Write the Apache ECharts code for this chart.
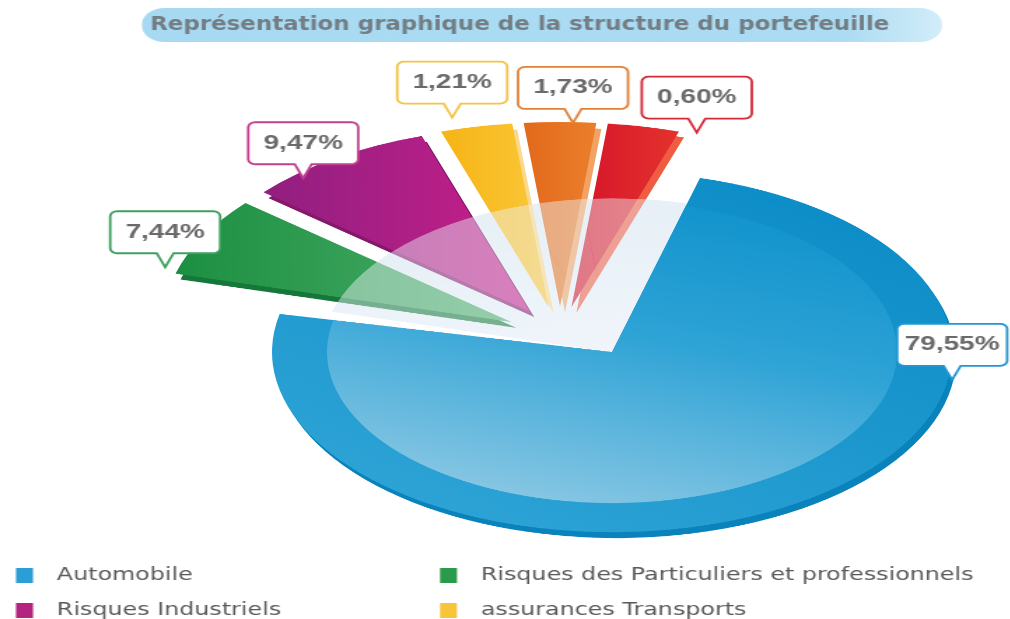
<!DOCTYPE html>
<html lang="fr">
<head>
<meta charset="utf-8">
<title>Structure du portefeuille</title>
<script src="https://cdn.jsdelivr.net/npm/echarts@6/dist/echarts.min.js"></script>
<style>
  html, body { margin: 0; padding: 0; background: #fff; }
  #stage { position: relative; width: 1010px; height: 619px; overflow: hidden; background: #fff; }
  /* the disc is drawn round, then flattened into a perspective ellipse */
  #pie { position: absolute; left: 0; top: 0; width: 1010px; height: 1168px;
         transform: scaleY(0.53); transform-origin: 0 0; }
  /* texts, callouts and legend use a wide face */
  #front { position: absolute; left: 0; top: 0; width: 722px; height: 619px;
           transform: scaleX(1.4); transform-origin: 0 0; }
</style>
</head>
<body>
<div id="stage"><div id="pie"></div><div id="front"></div></div>
<script>
// ---- data ---------------------------------------------------------------
const categories = [
  'Automobile',
  'Risques des Particuliers et professionnels',
  'Risques Industriels',
  'assurances Transports',
  'Autres branches',
  'Acceptations'
];
const shares = [79.55, 7.44, 9.47, 1.21, 1.73, 0.60];   // % of the portfolio
const legendColumns = [
  ['Automobile', 'Risques Industriels'],
  ['Risques des Particuliers et professionnels', 'assurances Transports']
];
const titleText = 'Représentation graphique de la structure du portefeuille';

// ---- styling --------------------------------------------------------------
const K = 0.53;            // vertical flattening of the disc
const S = 1.4;             // horizontal widening of the text layer
const DISC_START = 75, FAN_START = 72, MIN_ANGLE = 12;
const DISC_C = [612, 352 / K];
const FAN_C = [560, 335.5 / K];
const R_DISC = 340, R_FACE = 285, R_PLATE = 290, R_FAN = 348, FAN_OFFSET = 55;
const NONE = 'rgba(0,0,0,0)';

const fanLeft  = [null, '#1c8f42', '#901f80', '#f6b416', '#e3691b', '#d5132a'];
const fanRight = [null, '#4cae69', '#c8208a', '#fbc83a', '#ea7f2c', '#e4322d'];
const fanSide  = [null, '#15783a', '#85186a', '#fbd98c', '#f2a262', '#ef5c42'];
const legendColors = ['#2a9fd6', '#2b9a49', '#b3237f', '#f8c53a', '#e8731f', '#dc1f2a'];
const calloutColors = ['#2196d3', '#3f9f5f', '#c0418f', '#f2c447', '#e0813a', '#d42a38'];
// where each callout tip sits relative to the outer middle of its slice (px)
const calloutNudge = [[163, -126], [-38, 31], [-32, 20], [-24, -9], [13, 1], [53, 6]];

const LG = echarts.graphic.LinearGradient;

function layer(name, z, center, radius, startAngle, colorOf, extra) {
  return Object.assign({
    type: 'pie', name: name, z: z, center: center, radius: radius,
    startAngle: startAngle, clockwise: true, minAngle: MIN_ANGLE,
    silent: true, animation: false,
    label: { show: false }, labelLine: { show: false },
    emphasis: { disabled: true },
    data: categories.map(function (n, i) {
      return { name: n, value: shares[i],
               itemStyle: { color: colorOf(i), borderWidth: 0 } };
    })
  }, extra || {});
}

function fanLayer(name, z, dx, dy, colorOf) {
  const s = layer(name, z, [FAN_C[0] + dx, FAN_C[1] + dy], R_FAN, FAN_START, colorOf,
                  { selectedMode: 'multiple', selectedOffset: FAN_OFFSET });
  s.data.forEach(function (d, i) { if (i > 0) d.selected = true; });
  return s;
}

const plateFill = new LG(0, 0, 0, 1, [
  { offset: 0, color: '#e2ecf4' }, { offset: 1, color: '#f1f6fa' }]);
const rimFill = new LG(0.9, 0, 0.2, 1, [
  { offset: 0, color: '#0a8bc6' }, { offset: 1, color: '#2fa4d6' }]);
const faceFill = new LG(0.75, 0, 0.4, 1, [
  { offset: 0, color: '#1193cc' }, { offset: 0.45, color: '#2ea3d6' },
  { offset: 1, color: '#86c6e3' }]);

const pieChart = echarts.init(document.getElementById('pie'), null, { renderer: 'canvas' });
pieChart.setOption({
  backgroundColor: 'transparent',
  animation: false,
  series: [
    layer('plate', 1, DISC_C, R_PLATE, FAN_START, function (i) { return i ? plateFill : NONE; }),
    fanLayer('fanSide', 2, 5, 11, function (i) { return i ? fanSide[i] : NONE; }),
    fanLayer('fan', 3, 0, 0, function (i) {
      return i ? new LG(0, 0, 1, 0, [{ offset: 0, color: fanLeft[i] },
                                     { offset: 1, color: fanRight[i] }]) : NONE;
    }),
    layer('veil', 4, DISC_C, R_PLATE, FAN_START,
          function (i) { return i ? 'rgba(238,245,250,0.45)' : NONE; }),
    layer('discSide', 5, [DISC_C[0] + 4, DISC_C[1] + 11], R_DISC, DISC_START,
          function (i) { return i ? NONE : '#0a83bd'; }),
    layer('discRim', 6, DISC_C, R_DISC, DISC_START, function (i) { return i ? NONE : rimFill; }),
    layer('discFace', 7, DISC_C, R_FACE, DISC_START, function (i) { return i ? NONE : faceFill; })
  ]
});

// outer middle point of a slice, in page pixels
function outerPoint(seriesIndex, i, extra) {
  let lay = null;
  try {
    lay = pieChart.getModel().getSeriesByIndex(seriesIndex).getData().getItemLayout(i);
  } catch (e) { lay = null; }
  if (!lay) {
    // same angular layout as the pie (minAngle, start angle, clockwise)
    const total = shares.reduce(function (a, b) { return a + b; }, 0);
    const minA = MIN_ANGLE * Math.PI / 180;
    let rest = 2 * Math.PI, big = 0;
    shares.forEach(function (v) {
      if (v / total * 2 * Math.PI < minA) rest -= minA; else big += v;
    });
    const fan = seriesIndex === 2;
    let a = -(fan ? FAN_START : DISC_START) * Math.PI / 180, s0 = a, e0 = a;
    shares.forEach(function (v, j) {
      let w = v / total * 2 * Math.PI;
      w = w < minA ? minA : v * rest / big;
      if (j === i) { s0 = a; e0 = a + w; }
      a += w;
    });
    const c = fan ? FAN_C : DISC_C;
    lay = { cx: c[0], cy: c[1], r: fan ? R_FAN : R_DISC, startAngle: s0, endAngle: e0 };
  }
  const mid = (lay.startAngle + lay.endAngle) / 2;
  const d = lay.r + extra;
  return [lay.cx + d * Math.cos(mid), (lay.cy + d * Math.sin(mid)) * K];
}

function bubblePoints(w, h, r, tw, th) {
  const pts = [];
  function arc(cx, cy, a0) {
    for (let k = 0; k <= 4; k++) {
      const a = (a0 + k * 22.5) * Math.PI / 180;
      pts.push([cx + r * Math.cos(a), cy + r * Math.sin(a)]);
    }
  }
  arc(r, r, 180);
  arc(w - r, r, 270);
  arc(w - r, h - r, 0);
  pts.push([w / 2 + tw / 2, h], [w / 2, h + th], [w / 2 - tw / 2, h]);
  arc(r, h - r, 90);
  return pts;
}

const BW = 110 / S, BH = 42, TAIL_H = 14;
const callouts = shares.map(function (v, i) {
  const p = i === 0 ? outerPoint(5, 0, 0) : outerPoint(2, i, FAN_OFFSET);
  const tipX = (p[0] + calloutNudge[i][0]) / S;
  const tipY = p[1] + calloutNudge[i][1];
  return {
    type: 'group', x: tipX - BW / 2, y: tipY - TAIL_H - BH, silent: true,
    children: [
      { type: 'polygon', shape: { points: bubblePoints(BW, BH, 5, 17 / S, TAIL_H) },
        style: { fill: '#ffffff', stroke: calloutColors[i], lineWidth: 1.8 } },
      { type: 'text', x: BW / 2, y: BH / 2,
        style: { text: v.toFixed(2).replace('.', ',') + '%',
                 font: 'bold 20px "Liberation Sans", Arial, sans-serif',
                 fill: '#6a6a6a', align: 'center', verticalAlign: 'middle' } }
    ]
  };
});

const legendBase = {
  orient: 'vertical', top: 567, padding: 0,
  itemWidth: 17 / S, itemHeight: 15, itemGap: 18,
  icon: 'rect', selectedMode: false,
  textStyle: { fontFamily: 'DejaVu Sans', fontSize: 17, lineHeight: 15, color: '#595959',
               padding: [0, 0, 0, 12] }
};

const front = echarts.init(document.getElementById('front'), null, { renderer: 'canvas' });
front.setOption({
  backgroundColor: 'transparent',
  animation: false,
  legend: [
    Object.assign({ left: 16 / S, data: legendColumns[0] }, legendBase),
    Object.assign({ left: 440 / S, data: legendColumns[1] }, legendBase)
  ],
  series: [{
    type: 'pie', center: [-60, -60], radius: 0, silent: true,
    label: { show: false }, labelLine: { show: false },
    data: categories.map(function (n, i) {
      return { name: n, value: shares[i], itemStyle: { color: legendColors[i] } };
    })
  }],
  graphic: [
    { type: 'rect', silent: true, shape: { x: 142 / S, y: 8, width: 800 / S, height: 34, r: 16 },
      style: { fill: new LG(0, 0, 1, 0, [
        { offset: 0, color: '#a7daf2' }, { offset: 0.88, color: '#acdcf3' },
        { offset: 1, color: '#d2edf9' }]) } },
    { type: 'text', silent: true, x: 150 / S, y: 25, scaleX: 0.82,
      style: { text: titleText, font: 'bold 20px "DejaVu Sans", sans-serif',
               fill: '#737d83', verticalAlign: 'middle' } }
  ].concat(callouts)
});
</script>
</body>
</html>
